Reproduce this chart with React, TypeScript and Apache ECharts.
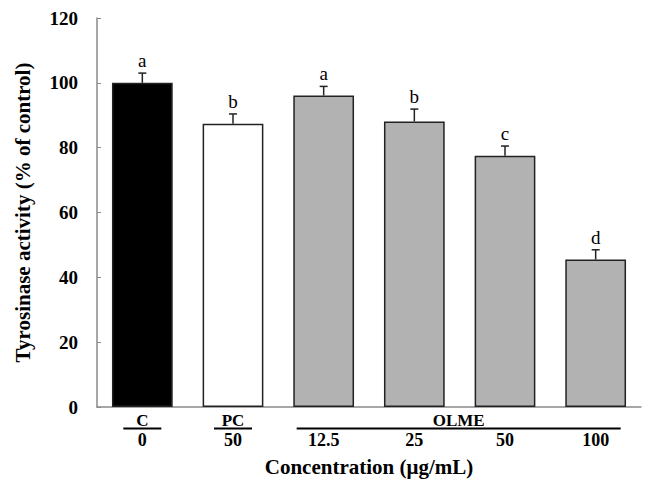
import React, { useEffect, useRef } from "react";
import * as echarts from "echarts";

const categories = ["0", "50", "12.5", "25", "50 ", "100"];
const values = [100, 87.4, 96.1, 88.1, 77.5, 45.5];
const errors = [3.0, 3.0, 2.8, 3.8, 3.0, 3.0];
const letters = ["a", "b", "a", "b", "c", "d"];
const barColors = ["#000000", "#ffffff", "#b2b2b2", "#b2b2b2", "#b2b2b2", "#b2b2b2"];
const groupNames = ["C", "PC", "OLME"];
const groupStart = [0, 1, 2];
const groupEnd = [0, 1, 5];
const yTicks = [0, 20, 40, 60, 80, 100, 120];

const FONT = "'Liberation Serif', 'Times New Roman', serif";

export default function App() {
  const ref = useRef<HTMLDivElement>(null);
  useEffect(() => {
    if (!ref.current) return;
    const chart = echarts.init(ref.current, undefined, { renderer: "svg" });
    const option: any = {
      animation: false,
      backgroundColor: "#ffffff",
      grid: { left: 97, top: 18, right: 13, bottom: 85 },
      xAxis: {
        type: "category",
        data: categories,
        boundaryGap: true,
        axisLine: { lineStyle: { color: "#8a8a8a", width: 1.5 } },
        axisTick: { inside: true, length: 4, lineStyle: { color: "#8a8a8a" } },
        axisLabel: {
          margin: 24,
          fontFamily: FONT,
          fontWeight: "bold",
          fontSize: 18,
          color: "#000",
          formatter: (v: string) => v.trim(),
        },
        name: "Concentration (μg/mL)",
        nameLocation: "middle",
        nameGap: 49,
        nameTextStyle: { fontFamily: FONT, fontWeight: "bold", fontSize: 21, color: "#000" },
      },
      yAxis: {
        type: "value",
        min: yTicks[0],
        max: yTicks[yTicks.length - 1],
        interval: 20,
        splitLine: { show: false },
        axisLine: { show: true, lineStyle: { color: "#8a8a8a", width: 1.5 } },
        axisTick: { show: true, inside: true, length: 4, lineStyle: { color: "#8a8a8a" } },
        axisLabel: { margin: 19, fontFamily: FONT, fontWeight: "bold", fontSize: 19, color: "#000" },
        name: "Tyrosinase activity (% of control)",
        nameLocation: "middle",
        nameGap: 64,
        nameTextStyle: { fontFamily: FONT, fontWeight: "bold", fontSize: 21, color: "#000" },
      },
      series: [
        {
          type: "bar",
          barWidth: "67%",
          data: values.map((v, i) => ({
            value: v,
            itemStyle: { color: barColors[i], borderColor: "#222", borderWidth: 1.5 },
          })),
        },
        {
          type: "custom",
          data: values.map((v, i) => [i, v, errors[i]]),
          renderItem: (params: any, api: any) => {
            const i = api.value(0);
            const v = api.value(1);
            const e = api.value(2);
            const top = api.coord([i, v]);
            const cap = api.coord([i, v + e]);
            const st = { stroke: "#222", lineWidth: 1.5 };
            return {
              type: "group",
              children: [
                { type: "line", shape: { x1: top[0], y1: top[1], x2: cap[0], y2: cap[1] }, style: st },
                { type: "line", shape: { x1: cap[0] - 4, y1: cap[1], x2: cap[0] + 4, y2: cap[1] }, style: st },
                {
                  type: "text",
                  style: {
                    x: cap[0],
                    y: cap[1] - 3,
                    text: letters[params.dataIndex],
                    textAlign: "center",
                    textVerticalAlign: "bottom",
                    fontFamily: FONT,
                    fontSize: 19,
                    fill: "#000",
                  },
                },
              ],
            };
          },
          z: 5,
        },
        {
          type: "custom",
          clip: false,
          data: groupStart.map((s, i) => [s, groupEnd[i]]),
          renderItem: (params: any, api: any) => {
            const s = api.value(0);
            const e = api.value(1);
            const p1 = api.coord([s, 0]);
            const p2 = api.coord([e, 0]);
            const y0 = p1[1];
            let x1: number, x2: number;
            if (s === e) {
              x1 = p1[0] - 19;
              x2 = p1[0] + 19;
            } else {
              x1 = p1[0] - 27;
              x2 = p2[0] + 25;
            }
            return {
              type: "group",
              children: [
                { type: "line", shape: { x1, y1: y0 + 21.5, x2, y2: y0 + 21.5 }, style: { stroke: "#000", lineWidth: 2 } },
                {
                  type: "text",
                  style: {
                    x: (x1 + x2) / 2,
                    y: y0 + 13.5,
                    text: groupNames[params.dataIndex],
                    textAlign: "center",
                    textVerticalAlign: "middle",
                    fontFamily: FONT,
                    fontWeight: "bold",
                    fontSize: 17,
                    fill: "#000",
                  },
                },
              ],
            };
          },
        },
      ],
    };
    chart.setOption(option);
    return () => chart.dispose();
  }, []);
  return <div ref={ref} style={{ width: 654, height: 492, position: "absolute", left: 0, top: 0 }} />;
}
